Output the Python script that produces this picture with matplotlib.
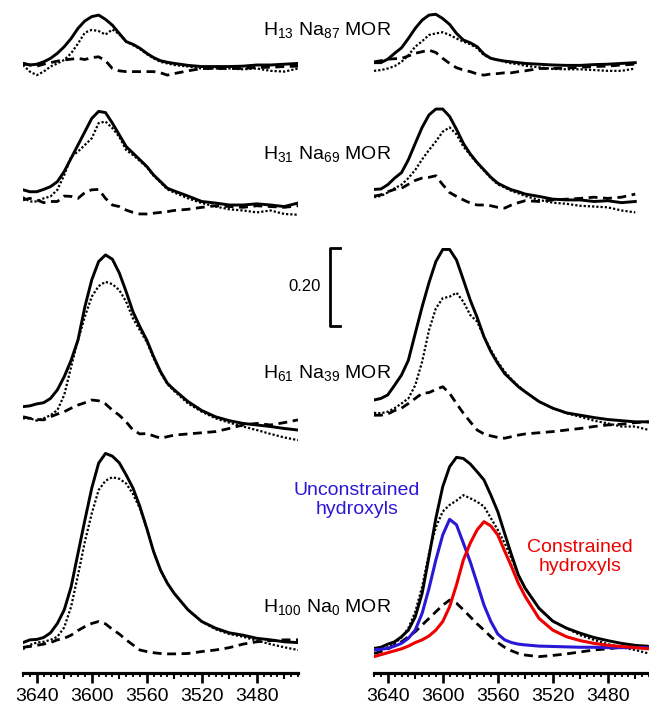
import numpy as np
import matplotlib
matplotlib.use('Agg')
import matplotlib.pyplot as plt
from matplotlib import transforms
from matplotlib.ticker import MultipleLocator

plt.rcParams['font.family'] = ['Liberation Sans', 'DejaVu Sans']
plt.rcParams['mathtext.fontset'] = 'custom'
plt.rcParams['mathtext.rm'] = 'Liberation Sans'

# wavenumber grid (cm-1)
wn = [3650, 3645, 3640, 3635, 3630, 3625, 3620, 3615, 3610, 3605, 3600, 3595,
      3590, 3585, 3580, 3575, 3570, 3565, 3560, 3555, 3550, 3545, 3540,
      3530, 3520, 3510, 3500, 3490, 3480, 3470, 3460, 3450]

nan = np.nan

# row 1: H13 Na87
r1L_solid = [0.017, 0.013, 0.015, 0.021, 0.030, 0.043, 0.060, 0.081, 0.107, 0.126, 0.137, 0.141, 0.130, 0.115, 0.094, 0.073,
             0.066, 0.056, 0.043, 0.032, 0.024, 0.020, 0.017, 0.012, 0.009, 0.009, 0.009, 0.010, 0.013, 0.013, 0.015, 0.017]
r1L_dot = [0.013, -0.004, -0.013, -0.004, 0.009, 0.017, 0.026, 0.043, 0.068, 0.096, 0.103, 0.100, 0.091, 0.104, 0.092, 0.073,
           0.064, 0.054, 0.041, 0.030, 0.021, 0.017, 0.013, 0.009, 0.004, 0.004, 0.004, 0.002, 0.004, -0.002, -0.004, 0.004]
r1L_dash = [0.017, 0.013, 0.010, 0.015, 0.019, 0.023, 0.026, 0.028, 0.030, 0.027, 0.032, 0.034, 0.024, 0.004, -0.002, -0.004,
            -0.004, -0.004, -0.004, -0.004, -0.007, -0.013, -0.009, -0.002, 0.004, 0.004, 0.004, 0.004, 0.007, 0.007, 0.009, 0.010]
r1R_solid = [0.019, 0.019, 0.028, 0.043, 0.057, 0.081, 0.107, 0.128, 0.141, 0.143, 0.132, 0.117, 0.094, 0.077, 0.070, 0.060,
             0.041, 0.030, 0.026, 0.023, 0.021, 0.019, 0.017, 0.015, 0.013, 0.012, 0.012, 0.014, 0.015, 0.017, 0.019, nan]
r1R_dot = [-0.002, 0.000, 0.004, 0.010, 0.021, 0.038, 0.060, 0.074, 0.090, 0.094, 0.097, 0.090, 0.081, 0.073, 0.066, 0.056,
           0.038, 0.030, 0.026, 0.021, 0.017, 0.015, 0.011, 0.007, 0.003, 0.002, 0.002, 0.000, -0.002, -0.002, 0.004, nan]
r1R_dash = [0.021, 0.024, 0.028, 0.029, 0.030, 0.036, 0.043, 0.047, 0.051, 0.045, 0.030, 0.017, 0.006, 0.000, -0.004, -0.010,
            -0.013, -0.010, -0.009, -0.007, -0.007, -0.004, -0.002, 0.004, 0.004, 0.005, 0.007, 0.009, 0.010, 0.013, 0.015, nan]

# row 2: H31 Na69
r2L_solid = [0.043, 0.038, 0.038, 0.044, 0.051, 0.064, 0.090, 0.124, 0.158, 0.192, 0.226, 0.244, 0.241, 0.214, 0.184, 0.154,
             0.137, 0.120, 0.103, 0.081, 0.064, 0.047, 0.040, 0.027, 0.013, 0.009, 0.004, 0.004, 0.007, 0.004, 0.000, 0.009]
r2L_dot = [0.024, 0.013, 0.013, 0.021, 0.026, 0.043, 0.081, 0.128, 0.141, 0.158, 0.175, 0.214, 0.218, 0.201, 0.179, 0.145,
           0.132, 0.117, 0.101, 0.079, 0.062, 0.044, 0.036, 0.021, 0.009, 0.000, -0.007, -0.010, -0.015, -0.010, -0.019, -0.021]
r2L_dash = [0.017, 0.021, 0.017, 0.010, 0.013, 0.013, 0.027, 0.026, 0.021, 0.036, 0.043, 0.044, 0.021, 0.004, 0.000, -0.009,
            -0.015, -0.019, -0.019, -0.017, -0.015, -0.013, -0.010, -0.007, -0.002, 0.002, 0.000, -0.002, 0.002, 0.000, -0.002, 0.002]
r2R_solid = [0.044, 0.045, 0.056, 0.073, 0.087, 0.120, 0.162, 0.203, 0.235, 0.250, 0.250, 0.231, 0.198, 0.162, 0.135, 0.113,
             0.094, 0.075, 0.060, 0.051, 0.043, 0.038, 0.032, 0.026, 0.019, 0.017, 0.017, 0.013, 0.015, 0.010, 0.013, nan]
r2R_dot = [0.024, 0.027, 0.036, 0.047, 0.056, 0.073, 0.094, 0.121, 0.145, 0.167, 0.192, 0.203, 0.185, 0.154, 0.132, 0.111,
           0.092, 0.073, 0.057, 0.049, 0.040, 0.034, 0.027, 0.017, 0.010, 0.007, 0.002, 0.000, -0.002, -0.010, -0.015, nan]
r2R_dash = [0.027, 0.030, 0.038, 0.044, 0.047, 0.057, 0.067, 0.073, 0.075, 0.079, 0.056, 0.036, 0.026, 0.017, 0.009, 0.004,
            0.004, 0.002, -0.002, -0.004, 0.004, 0.010, 0.015, 0.013, 0.017, 0.019, 0.021, 0.024, 0.021, 0.024, 0.032, nan]

# row 3: H61 Na39
r3L_solid = [0.060, 0.062, 0.067, 0.070, 0.081, 0.103, 0.137, 0.179, 0.231, 0.316, 0.385, 0.432, 0.449, 0.438, 0.403, 0.355,
             0.303, 0.265, 0.231, 0.188, 0.150, 0.120, 0.103, 0.073, 0.050, 0.034, 0.024, 0.017, 0.013, 0.009, 0.004, 0.000]
r3L_dot = [0.030, 0.030, 0.024, 0.030, 0.038, 0.051, 0.090, 0.162, 0.231, 0.291, 0.342, 0.369, 0.380, 0.374, 0.359, 0.329,
           0.286, 0.256, 0.226, 0.184, 0.147, 0.118, 0.100, 0.068, 0.047, 0.030, 0.019, 0.009, 0.000, -0.010, -0.019, -0.026]
r3L_dash = [0.034, 0.030, 0.027, 0.026, 0.034, 0.041, 0.047, 0.056, 0.064, 0.070, 0.077, 0.075, 0.067, 0.051, 0.038, 0.021,
            0.000, -0.010, -0.009, -0.015, -0.021, -0.017, -0.013, -0.010, -0.007, -0.004, 0.004, 0.013, 0.017, 0.013, 0.019, 0.026]
r3R_solid = [0.077, 0.081, 0.090, 0.115, 0.141, 0.179, 0.248, 0.316, 0.378, 0.432, 0.463, 0.463, 0.436, 0.385, 0.333, 0.289,
             0.239, 0.201, 0.171, 0.145, 0.128, 0.111, 0.098, 0.073, 0.056, 0.044, 0.038, 0.032, 0.027, 0.024, 0.021, 0.021]
r3R_dot = [0.044, 0.043, 0.047, 0.056, 0.068, 0.081, 0.115, 0.175, 0.256, 0.312, 0.338, 0.342, 0.352, 0.329, 0.295, 0.278,
           0.239, 0.205, 0.175, 0.150, 0.130, 0.113, 0.098, 0.073, 0.056, 0.043, 0.034, 0.024, 0.017, 0.009, 0.009, 0.000]
r3R_dash = [0.038, 0.038, 0.041, 0.050, 0.056, 0.068, 0.081, 0.094, 0.096, 0.104, 0.111, 0.094, 0.068, 0.043, 0.021, 0.000,
            -0.010, -0.015, -0.019, -0.021, -0.017, -0.013, -0.010, -0.007, -0.004, 0.000, 0.004, 0.009, 0.013, 0.015, 0.019, 0.021]

# row 4: H100 Na0
r4L_solid = [0.019, 0.026, 0.027, 0.032, 0.044, 0.068, 0.103, 0.162, 0.248, 0.333, 0.415, 0.479, 0.504, 0.497, 0.480, 0.449,
             0.415, 0.368, 0.312, 0.252, 0.205, 0.171, 0.145, 0.103, 0.073, 0.056, 0.044, 0.038, 0.030, 0.026, 0.021, 0.019]
r4L_dot = [0.002, 0.013, 0.019, 0.021, 0.026, 0.034, 0.058, 0.111, 0.192, 0.278, 0.350, 0.410, 0.434, 0.443, 0.439, 0.427,
           0.400, 0.363, 0.312, 0.252, 0.205, 0.171, 0.145, 0.103, 0.073, 0.053, 0.041, 0.034, 0.024, 0.015, 0.007, 0.000]
r4L_dash = [0.007, 0.009, 0.012, 0.015, 0.019, 0.026, 0.030, 0.038, 0.050, 0.060, 0.068, 0.073, 0.067, 0.053, 0.041, 0.026,
            0.013, 0.000, -0.004, -0.007, -0.009, -0.010, -0.010, -0.009, -0.004, 0.000, 0.006, 0.015, 0.021, 0.024, 0.026, 0.026]
r4R_solid = [0.004, 0.007, 0.015, 0.021, 0.034, 0.051, 0.085, 0.145, 0.239, 0.338, 0.419, 0.470, 0.494, 0.491, 0.477, 0.457,
             0.436, 0.397, 0.355, 0.299, 0.244, 0.192, 0.158, 0.107, 0.074, 0.056, 0.043, 0.032, 0.024, 0.017, 0.012, 0.009]
r4R_dot = [0.000, 0.002, 0.007, 0.017, 0.032, 0.056, 0.098, 0.162, 0.248, 0.315, 0.355, 0.372, 0.383, 0.397, 0.389, 0.380,
           0.368, 0.338, 0.308, 0.274, 0.235, 0.192, 0.158, 0.107, 0.074, 0.056, 0.038, 0.026, 0.015, 0.007, 0.000, -0.009]
r4R_dash = [-0.009, -0.004, 0.002, 0.013, 0.021, 0.034, 0.047, 0.064, 0.081, 0.098, 0.115, 0.128, 0.120, 0.103, 0.085, 0.067,
            0.051, 0.034, 0.019, 0.007, -0.002, -0.009, -0.013, -0.017, -0.014, -0.010, -0.005, 0.000, 0.003, 0.007, 0.009, 0.010]
r4R_unconstrained = [0.000, 0.002, 0.004, 0.010, 0.017, 0.030, 0.051, 0.094, 0.158, 0.231, 0.295, 0.335, 0.321, 0.274, 0.226, 0.171,
                     0.115, 0.073, 0.041, 0.026, 0.019, 0.015, 0.013, 0.010, 0.009, 0.008, 0.007, 0.007, 0.006, 0.006, 0.006, 0.006]
r4R_constrained = [-0.017, -0.012, -0.007, -0.002, 0.003, 0.010, 0.019, 0.026, 0.036, 0.051, 0.073, 0.111, 0.167, 0.231, 0.274, 0.308,
                   0.329, 0.318, 0.295, 0.254, 0.214, 0.171, 0.137, 0.081, 0.051, 0.034, 0.024, 0.017, 0.012, 0.009, 0.006, 0.003]

offsets = [1.546, 1.196, 0.623, 0.059]
labels = [r'H$_\mathregular{13}$ Na$_\mathregular{87}$ MOR',
          r'H$_\mathregular{31}$ Na$_\mathregular{69}$ MOR',
          r'H$_\mathregular{61}$ Na$_\mathregular{39}$ MOR',
          r'H$_\mathregular{100}$ Na$_\mathregular{0}$ MOR']
label_y = [31, 155, 374, 608]
ticks = [3640, 3600, 3560, 3520, 3480]

left_rows = [(r1L_solid, r1L_dot, r1L_dash), (r2L_solid, r2L_dot, r2L_dash),
             (r3L_solid, r3L_dot, r3L_dash), (r4L_solid, r4L_dot, r4L_dash)]
right_rows = [(r1R_solid, r1R_dot, r1R_dash), (r2R_solid, r2R_dot, r2R_dash),
              (r3R_solid, r3R_dot, r3R_dash), (r4R_solid, r4R_dot, r4R_dash)]

W, H = 649, 708
fig = plt.figure(figsize=(W / 100, H / 100), dpi=100)
axL = fig.add_axes([23 / W, 35 / H, 275 / W, 673 / H])
axR = fig.add_axes([374 / W, 35 / H, 275 / W, 673 / H])

solid_kw = dict(color='black', lw=2.1, solid_joinstyle='round')
dot_kw = dict(color='black', lw=1.6, linestyle=(0, (1, 0.9)))
dash_kw = dict(color='black', lw=2.0, linestyle=(0, (3.2, 2.0)))

for ax, rows in [(axL, left_rows), (axR, right_rows)]:
    for (sol, dot, dash), off in zip(rows, offsets):
        ax.plot(wn, np.array(dash) + off, **dash_kw)
        ax.plot(wn, np.array(dot) + off, **dot_kw)
        ax.plot(wn, np.array(sol) + off, **solid_kw)
    ax.set_xlim(3650, 3450)
    ax.set_ylim(0, 673 / 390)
    for s in ['top', 'left', 'right']:
        ax.spines[s].set_visible(False)
    ax.spines['bottom'].set_linewidth(2.3)
    ax.set_yticks([])
    ax.set_xticks(ticks)
    ax.xaxis.set_minor_locator(MultipleLocator(5))
    ax.tick_params(axis='x', which='major', length=7.5, width=1.9, labelsize=14, pad=3)
    ax.tick_params(axis='x', which='minor', length=3, width=1.3)
    sec = ax.secondary_xaxis('bottom')
    sec.set_xticks([3620, 3580, 3540, 3500, 3460])
    sec.tick_params(length=4.5, width=1.5, labelbottom=False)
    sec.spines['bottom'].set_visible(False)
    ax.patch.set_alpha(0)

axR.plot(wn, np.array(r4R_unconstrained) + offsets[3], color='#2b18d6', lw=2.2)
axR.plot(wn, np.array(r4R_constrained) + offsets[3], color='#ee0000', lw=2.2)

for lab, y in zip(labels, label_y):
    fig.text(327 / W, 1 - y / H, lab, ha='center', va='center', fontsize=14)

fig.text(357 / W, 1 - 500 / H, 'Unconstrained\nhydroxyls', ha='center', va='center',
         fontsize=14, color='#2b18d6', linespacing=1.15)
fig.text(580 / W, 1 - 557 / H, 'Constrained\nhydroxyls', ha='center', va='center',
         fontsize=14, color='#ee0000', linespacing=1.15)

# 0.20 absorbance scale bar
tr = transforms.blended_transform_factory(fig.transFigure, axL.transData)
y_top = (673 - 248) / 390
axL.plot([340 / W, 330 / W, 330 / W, 340 / W], [y_top, y_top, y_top - 0.20, y_top - 0.20],
         color='black', lw=2.0, transform=tr, clip_on=False)
fig.text(321 / W, 1 - 287 / H, '0.20', ha='right', va='center', fontsize=12)

fig.savefig('out.png', dpi=100)
